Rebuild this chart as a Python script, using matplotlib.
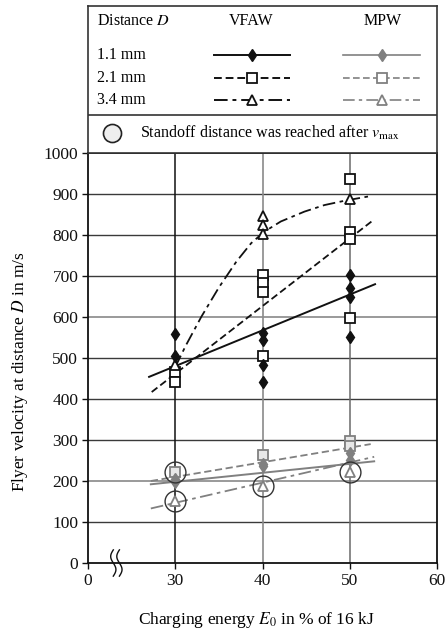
import numpy as np
import matplotlib
matplotlib.use('Agg')
import matplotlib.pyplot as plt

plt.rcParams['font.family'] = ['Liberation Serif', 'DejaVu Serif']
plt.rcParams['mathtext.fontset'] = 'stix'

# VFAW, D = 1.1 mm
vfaw_11_e = [30, 30, 40, 40, 40, 40, 50, 50, 50, 50]
vfaw_11_v = [558, 505, 560, 544, 483, 442, 702, 670, 648, 552]
# VFAW, D = 2.1 mm
vfaw_21_e = [30, 30, 40, 40, 40, 40, 50, 50, 50, 50]
vfaw_21_v = [465, 441, 702, 682, 662, 505, 937, 808, 790, 598]
# VFAW, D = 3.4 mm
vfaw_34_e = [30, 40, 40, 40, 50]
vfaw_34_v = [482, 847, 825, 803, 889]
# MPW
mpw_11_e = [30, 30, 40, 40, 50, 50]
mpw_11_v = [198, 205, 236, 242, 251, 268]
mpw_21_e = [30, 40, 50, 50]
mpw_21_v = [222, 263, 298, 285]
mpw_34_e = [30, 40, 50]
mpw_34_v = [151, 188, 223]
# points where standoff distance was reached after v_max
circ_e = [30, 30, 40, 50]
circ_v = [222, 151, 188, 223]

# trend lines
vfaw_11_fit_e = [27.0, 52.9]
vfaw_11_fit_v = [454, 680]
vfaw_21_fit_e = [27.3, 52.5]
vfaw_21_fit_v = [417, 833]
vfaw_34_fit_e = [30.0, 31.2, 33.0, 35.0, 37.0, 38.7, 40.2, 42.1, 44.8, 47.1, 49.5, 52.4]
vfaw_34_fit_v = [478, 530, 601, 672, 735, 780, 808, 833, 857, 873, 884, 895]
mpw_11_fit_e = [27.2, 52.8]
mpw_11_fit_v = [192, 248]
mpw_21_fit_e = [27.2, 52.4]
mpw_21_fit_v = [200, 290]
mpw_34_fit_e = [27.2, 52.8]
mpw_34_fit_v = [133, 259]

x_ticks = [20, 30, 40, 50, 60]
x_ticklabels = ['0', '30', '40', '50', '60']
y_ticks = list(range(0, 1001, 100))

BLK = '#111111'
GRY = '#808080'
DASH21 = (0, (4, 2))
DASH34 = (0, (7, 2.5, 2, 2.5))

W, H = 446, 637
L, R = 88, 437
fig = plt.figure(figsize=(W / 100, H / 100), dpi=100)

# main plot area
ax = fig.add_axes([L / W, 1 - 563 / H, (R - L) / W, 410 / H])
ax.set_xlim(20, 60)
ax.set_ylim(0, 1000)

# grid lines
for yv in range(100, 1000, 100):
    if yv in (200, 600):
        ax.axhline(yv, color='#9a9a9a', lw=1.4, zorder=0)
    else:
        ax.axhline(yv, color='#3a3a3a', lw=1.0, zorder=0)
ax.axvline(30, color=BLK, lw=1.1, zorder=0)
ax.axvline(40, color='#8a8a8a', lw=1.2, zorder=0)
ax.axvline(50, color='#6a6a6a', lw=1.1, zorder=0)

# MPW
ax.plot(mpw_11_fit_e, mpw_11_fit_v, color=GRY, lw=1.4, zorder=2)
ax.plot(mpw_21_fit_e, mpw_21_fit_v, color=GRY, lw=1.3, ls=DASH21, zorder=2)
ax.plot(mpw_34_fit_e, mpw_34_fit_v, color=GRY, lw=1.3, ls=DASH34, zorder=2)
ax.plot(mpw_21_e, mpw_21_v, 's', ms=7, mfc='#e8e8e8', mec=GRY, mew=1.3, zorder=3)
ax.plot(mpw_34_e, mpw_34_v, '^', ms=7, mfc='white', mec=GRY, mew=1.3, zorder=3)
ax.plot(mpw_11_e, mpw_11_v, 'd', ms=6, color=GRY, zorder=4)
ax.plot(circ_e, circ_v, 'o', ms=15, mfc='none', mec='#333333', mew=1.0, zorder=5)

# VFAW
ax.plot(vfaw_11_fit_e, vfaw_11_fit_v, color=BLK, lw=1.4, zorder=2)
ax.plot(vfaw_21_fit_e, vfaw_21_fit_v, color=BLK, lw=1.3, ls=DASH21, zorder=2)
ax.plot(vfaw_34_fit_e, vfaw_34_fit_v, color=BLK, lw=1.3, ls=DASH34, zorder=2)
ax.plot(vfaw_21_e, vfaw_21_v, 's', ms=7, mfc='white', mec=BLK, mew=1.3, zorder=3)
ax.plot(vfaw_34_e, vfaw_34_v, '^', ms=7, mfc='white', mec=BLK, mew=1.3, zorder=3)
ax.plot(vfaw_11_e, vfaw_11_v, 'd', ms=6, color=BLK, zorder=4)

ax.set_xticks(x_ticks)
ax.set_xticklabels(x_ticklabels)
ax.set_yticks(y_ticks)
ax.tick_params(direction='out', length=4, width=1, labelsize=12.5, colors=BLK, pad=3)
for s in ax.spines.values():
    s.set_linewidth(1.3)
    s.set_color(BLK)

# axis break mark
t = np.linspace(-1, 1, 40)
for xc in (22.9, 23.6):
    ax.plot(xc - 0.3 * np.sin(np.pi * t), 32 * t, color=BLK, lw=1.0, clip_on=False, zorder=6)

fig.text(256 / W, 1 - 620 / H, 'Charging energy $E_0$ in % of 16 kJ', ha='center', va='center', fontsize=12.5)
fig.text(20 / W, 1 - 372 / H, 'Flyer velocity at distance $D$ in m/s', ha='center', va='center',
         rotation=90, fontsize=12.5)

# legend box (pixel coordinates)
lg = fig.add_axes([L / W, 1 - 153 / H, (R - L) / W, 147 / H])
lg.set_xlim(88, 440)
lg.set_ylim(153, 6)
lg.set_xticks([])
lg.set_yticks([])
for s in lg.spines.values():
    s.set_linewidth(1.2)
    s.set_color('#333333')
lg.axhline(115, color='#333333', lw=1.2)

fs = 11.5
lg.text(97, 21, 'Distance $D$', ha='left', va='center', fontsize=fs)
lg.text(253, 21, 'VFAW', ha='center', va='center', fontsize=fs)
lg.text(385, 21, 'MPW', ha='center', va='center', fontsize=fs)

rows = ['1.1 mm', '2.1 mm', '3.4 mm']
row_y = [55, 78, 100]
styles = [('-', 'd', 6), (DASH21, 's', 6.5), (DASH34, '^', 6.5)]
for lab, yy, (ls, mk, ms) in zip(rows, row_y, styles):
    lg.text(97, yy, lab, ha='left', va='center', fontsize=fs)
    for x0, x1, xm, c in ((215, 292, 253, BLK), (345, 423, 385, GRY)):
        lg.plot([x0, x1], [yy, yy], color=c, lw=1.4 if c == BLK else 1.2, ls=ls)
        if mk == 'd':
            lg.plot([xm], [yy], mk, ms=ms, color=c)
        else:
            lg.plot([xm], [yy], mk, ms=ms, mfc='white', mec=c, mew=1.3)

lg.plot([112], [133], 'o', ms=13, mfc='#eeeeee', mec='#222222', mew=1.2)
lg.text(140, 133, r'Standoff distance was reached after $v_{\mathrm{max}}$', ha='left', va='center',
        fontsize=fs)

fig.savefig('out.png', dpi=100)
